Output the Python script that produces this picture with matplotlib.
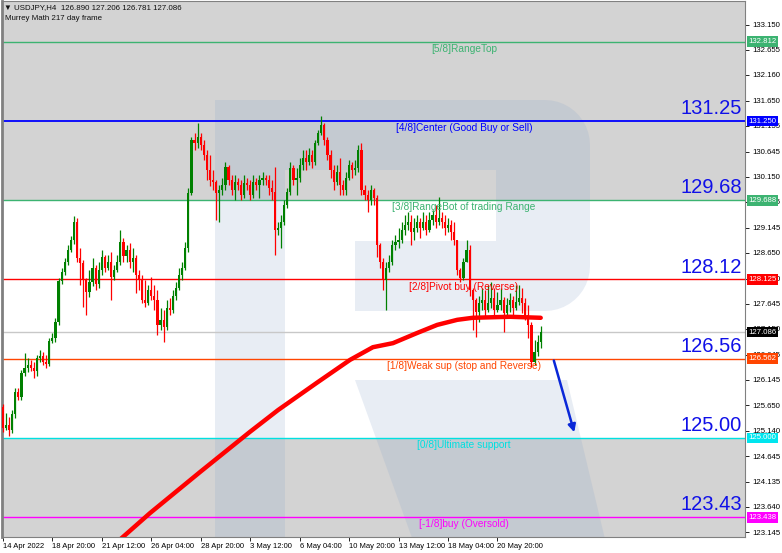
import numpy as np
import matplotlib.pyplot as plt
from matplotlib.patches import Polygon
import matplotlib.transforms as mtransforms

# H4 candles, USDJPY, bar index 0..174
open0 = 125.61
closes = [
    125.20, 125.26, 125.16, 125.47, 125.91, 125.81, 126.28, 126.38, 126.44, 126.38,
    126.32, 126.58, 126.62, 126.50, 126.46, 126.91, 126.97, 127.29, 128.10, 128.27,
    128.47, 128.71, 128.90, 129.26, 128.55, 128.45, 128.12, 127.88, 128.08, 128.35,
    128.04, 128.31, 128.57, 128.35, 128.47, 128.17, 128.31, 128.47, 128.87, 128.59,
    128.71, 128.47, 128.55, 128.21, 128.12, 127.72, 127.66, 127.92, 127.80, 127.72,
    127.23, 127.33, 127.19, 127.56, 127.52, 127.80, 127.96, 128.21, 128.35, 128.75,
    129.83, 130.88, 130.82, 130.93, 130.78, 130.58, 130.28, 130.09, 130.05, 129.83,
    129.89, 129.99, 130.34, 130.09, 129.89, 130.05, 129.99, 129.79, 130.03, 129.99,
    129.79, 130.05, 129.99, 130.09, 130.13, 130.09, 129.93, 129.85, 129.10, 129.14,
    129.26, 129.59, 129.85, 130.32, 130.09, 130.13, 130.38, 130.52, 130.44, 130.58,
    130.44, 130.82, 131.01, 131.17, 130.88, 130.58, 130.28, 130.05, 130.25, 129.99,
    129.89, 130.13, 130.38, 130.28, 130.32, 130.68, 129.89, 129.79, 129.69, 129.89,
    129.73, 128.81, 128.47, 128.12, 128.35, 128.47, 128.81, 128.87, 128.90, 129.10,
    129.20, 129.26, 129.06, 129.14, 129.26, 129.14, 129.26, 129.10, 129.30, 129.40,
    129.26, 129.34, 129.26, 129.14, 129.20, 129.06, 128.90, 128.31, 128.15, 128.47,
    128.71, 127.92, 127.72, 127.49, 127.66, 127.72, 127.52, 127.66, 127.76, 127.52,
    127.62, 127.72, 127.47, 127.62, 127.72, 127.56, 127.68, 127.76, 127.66, 127.43,
    127.23, 126.50, 126.70, 126.89, 127.086]
highs = [
    125.67, 125.49, 125.42, 125.55, 125.99, 125.99, 126.34, 126.68, 126.58, 126.54,
    126.50, 126.64, 126.74, 126.70, 126.64, 126.97, 127.07, 127.37, 128.15, 128.35,
    128.55, 128.81, 128.98, 129.38, 129.34, 128.75, 128.51, 128.15, 128.31, 128.55,
    128.41, 128.47, 128.71, 128.61, 128.61, 128.67, 128.41, 128.61, 129.10, 128.94,
    128.81, 128.85, 128.75, 128.61, 128.31, 128.21, 128.12, 128.02, 128.17, 128.02,
    127.92, 127.56, 127.52, 127.72, 127.76, 127.92, 128.08, 128.35, 128.47, 128.87,
    129.93, 130.93, 131.01, 131.21, 131.01, 130.88, 130.68, 130.58, 130.28, 130.09,
    129.99, 130.13, 130.44, 130.38, 130.19, 130.19, 130.13, 130.09, 130.19, 130.13,
    130.09, 130.19, 130.13, 130.19, 130.25, 130.19, 130.19, 130.09, 130.34, 129.26,
    129.40, 129.69, 129.93, 130.44, 130.38, 130.32, 130.52, 130.68, 130.68, 130.72,
    130.68, 130.88, 131.07, 131.35, 131.21, 130.93, 130.68, 130.38, 130.38, 130.52,
    130.09, 130.25, 130.48, 130.44, 130.48, 130.78, 130.82, 129.99, 129.89, 129.99,
    129.93, 129.79, 128.85, 128.55, 128.47, 128.61, 128.90, 129.00, 129.14, 129.26,
    129.40, 129.46, 129.40, 129.34, 129.40, 129.34, 129.46, 129.40, 129.46, 129.50,
    129.59, 129.75, 129.46, 129.40, 129.34, 129.30, 129.26, 128.90, 128.35, 128.55,
    128.90, 128.81, 127.96, 127.76, 127.80, 127.96, 127.92, 128.02, 128.08, 127.96,
    127.88, 127.96, 127.78, 127.76, 127.86, 127.80, 128.02, 128.02, 127.96, 127.76,
    127.62, 127.29, 126.93, 127.03, 127.206]
lows = [
    125.12, 125.16, 125.04, 125.10, 125.40, 125.75, 125.75, 126.22, 126.30, 126.32,
    126.18, 126.22, 126.50, 126.44, 126.38, 126.42, 126.87, 126.89, 127.23, 128.04,
    128.21, 128.41, 128.67, 128.83, 128.47, 128.02, 127.58, 127.43, 127.78, 128.00,
    127.92, 127.96, 128.21, 128.27, 128.31, 127.72, 128.12, 128.27, 128.41, 128.47,
    128.47, 128.35, 128.27, 127.86, 127.92, 127.66, 127.58, 127.62, 127.72, 127.52,
    127.03, 127.13, 126.89, 127.13, 127.43, 127.47, 127.72, 127.92, 128.12, 128.31,
    128.67, 129.79, 130.68, 130.72, 130.68, 130.48, 130.09, 129.97, 129.89, 129.30,
    129.26, 129.79, 129.89, 129.99, 129.79, 129.69, 129.89, 129.69, 129.73, 129.89,
    129.69, 129.73, 129.89, 129.73, 129.99, 129.99, 129.79, 129.69, 128.61, 129.00,
    128.75, 129.20, 129.54, 129.79, 129.99, 129.79, 130.05, 130.28, 130.28, 130.38,
    130.32, 130.38, 130.78, 130.97, 130.78, 130.48, 130.13, 129.89, 129.99, 129.79,
    129.79, 129.79, 130.09, 130.13, 130.19, 130.25, 129.79, 129.69, 129.46, 129.59,
    129.59, 128.57, 128.35, 127.92, 127.52, 128.27, 128.41, 128.71, 128.75, 128.85,
    129.00, 129.10, 128.81, 128.90, 129.06, 128.94, 129.10, 129.00, 129.06, 129.20,
    129.14, 129.20, 129.14, 129.00, 129.06, 128.90, 128.81, 128.21, 128.08, 128.12,
    128.47, 127.80, 127.13, 126.99, 127.29, 127.52, 127.37, 127.49, 127.56, 127.43,
    127.49, 127.52, 127.09, 127.37, 127.49, 127.43, 127.52, 127.62, 127.47, 127.33,
    126.97, 126.40, 126.44, 126.62, 126.781]

# red moving average, read at a few bars
ma_idx = [37, 47.6, 63.8, 79.9, 89, 101.6, 112.3, 119.7, 126.2, 134, 140.5, 147, 152, 164, 174]
ma_val = [122.95, 123.52, 124.33, 125.12, 125.55, 126.09, 126.54, 126.79, 126.87, 127.07,
          127.23, 127.33, 127.37, 127.39, 127.37]

# Murrey math levels
mm_levels = [132.812, 131.250, 129.688, 128.125, 126.562, 125.000, 123.438]
mm_colors = ["#3cb371", "#0000ff", "#3cb371", "#ff0000", "#ff4500", "#00e0e0", "#ff00ff"]
mm_names = ["[5/8]RangeTop", "[4/8]Center (Good Buy or Sell)", "[3/8]RangeBot of trading Range",
            "[2/8]Pivot buy (Reverse)", "[1/8]Weak sup (stop and Reverse)",
            "[0/8]Ultimate support", "[-1/8]buy (Oversold)"]
big_labels = ["131.25", "129.68", "128.12", "126.56", "125.00", "123.43"]
last_price = 127.086

yticks = [133.150, 132.655, 132.160, 131.650, 131.155, 130.645, 130.150, 129.655, 129.145,
          128.650, 128.140, 127.645, 127.150, 126.645, 126.145, 125.650, 125.140, 124.645,
          124.135, 123.640, 123.145]
xtick_labels = ["14 Apr 2022", "18 Apr 20:00", "21 Apr 12:00", "26 Apr 04:00", "28 Apr 20:00",
                "3 May 12:00", "6 May 04:00", "10 May 20:00", "13 May 12:00", "18 May 04:00",
                "20 May 20:00"]

closes = np.array(closes)
highs = np.array(highs)
lows = np.array(lows)
opens = np.r_[open0, closes[:-1]]
opens[-1] = 126.890
x = np.arange(len(closes))

fig = plt.figure(figsize=(7.82, 5.53), dpi=100)
ax = fig.add_axes([2 / 782, 16 / 553, 743 / 782, 536 / 553])
ax.set_xlim(-0.3, 240.1)
ax.set_ylim(123.048, 133.616)

# grey zones above 3/8 and below 0/8
ax.axhspan(129.688, 134, color="#d3d3d3", lw=0, zorder=0)
ax.axhspan(122, 125.0, color="#d3d3d3", lw=0, zorder=0)

# watermark "R" (drawn in picture pixels, y down)
px = mtransforms.Affine2D().scale(1 / 782, -1 / 553).translate(0, 1) + fig.transFigure
t = np.linspace(0, np.pi / 2, 12)
top_right = [(545 + 45 * np.sin(a), 145 - 45 * np.cos(a)) for a in t]
bot_right = [(545 + 45 * np.cos(a), 266 + 45 * np.sin(a)) for a in t]
r_body = ([(215, 560), (215, 100)] + top_right + bot_right +
          [(355, 311), (355, 241), (496, 241), (496, 170), (285, 170), (285, 560)])
wm = dict(facecolor=(0.55, 0.65, 0.8), alpha=0.2, lw=0, zorder=0.5, transform=px)
ax.add_patch(Polygon(r_body, closed=True, **wm))
ax.add_patch(Polygon([(355, 380), (567, 380), (610, 560), (420, 560)], closed=True, **wm))

# levels
for lv, c in zip(mm_levels, mm_colors):
    ax.axhline(lv, color=c, lw=1.3 if c == "#0000ff" else 1.0, zorder=2)
ax.axhline(last_price, color="#c8c8c8", lw=1.0, zorder=1.5)

# candles
up = closes >= opens
col = np.where(up, "#008000", "#ff0000")
ax.vlines(x, lows, highs, colors=col, lw=0.9, zorder=3)
body_lo = np.minimum(opens, closes)
body_h = np.maximum(np.abs(closes - opens), 0.012)
ax.bar(x, body_h, bottom=body_lo, width=0.7, color=col, lw=0, zorder=3)

# moving average
ax.plot(ma_idx, ma_val, color="#ff0000", lw=3.2, solid_capstyle="round", zorder=4)

# forecast arrow
ax.annotate("", xy=(185.1, 125.06), xytext=(178, 126.58),
            arrowprops=dict(arrowstyle="-|>", color="#0a28d8", lw=1.8, mutation_scale=11), zorder=5)

# level captions
for lv, c, name in zip(mm_levels, mm_colors, mm_names):
    ax.annotate(name, xy=(149.2, lv), xytext=(0, -1.5), textcoords="offset points",
                ha="center", va="top", fontsize=7.3, color=c, family="Liberation Sans", zorder=6)
for lv, s in zip(mm_levels[1:], big_labels):
    ax.annotate(s, xy=(239.2, lv), xytext=(0, 2), textcoords="offset points",
                ha="right", va="bottom", fontsize=14.5, color="#1010e8",
                family="Liberation Sans", zorder=6)

# right price scale
ax.yaxis.tick_right()
ax.set_yticks(yticks)
ax.set_yticklabels(["%.3f" % v for v in yticks], family="Liberation Sans")
ax.tick_params(axis="y", labelsize=5.6, length=3, width=0.6, pad=2.5)
trans = mtransforms.blended_transform_factory(ax.transAxes, ax.transData)
box_colors = ["#3cb371", "#0000ff", "#3cb371", "#ff0000", "#000000", "#ff4500", "#00e5ee", "#ff00ff"]
box_vals = [132.812, 131.250, 129.688, 128.125, last_price, 126.562, 125.000, 123.438]
for v, c in zip(box_vals, box_colors):
    ax.text(1.0045, v, "%.3f" % v, transform=trans, ha="left", va="center", fontsize=5.6,
            color="white", clip_on=False, zorder=10, family="Liberation Sans",
            bbox=dict(facecolor=c, edgecolor="none", pad=1.3))

# time scale
ax.set_xticks(np.arange(0, 161, 16))
ax.set_xticklabels(xtick_labels, ha="left", family="Liberation Sans")
ax.tick_params(axis="x", labelsize=5.5, length=3, width=0.6, pad=1.5)

for s in ax.spines.values():
    s.set_color("#808080")
    s.set_linewidth(0.8)
ax.spines["left"].set_linewidth(2)

fig.text(4 / 782, 1 - 8 / 553, "\u25bc USDJPY,H4  126.890 127.206 126.781 127.086", fontsize=5.7,
         va="center", color="#101010", family=["Liberation Sans", "DejaVu Sans"])
fig.text(5 / 782, 1 - 19 / 553, "Murrey Math 217 day frame", fontsize=5.7, va="center",
         color="#101010", family="Liberation Sans")

fig.savefig("out.png", dpi=100)
